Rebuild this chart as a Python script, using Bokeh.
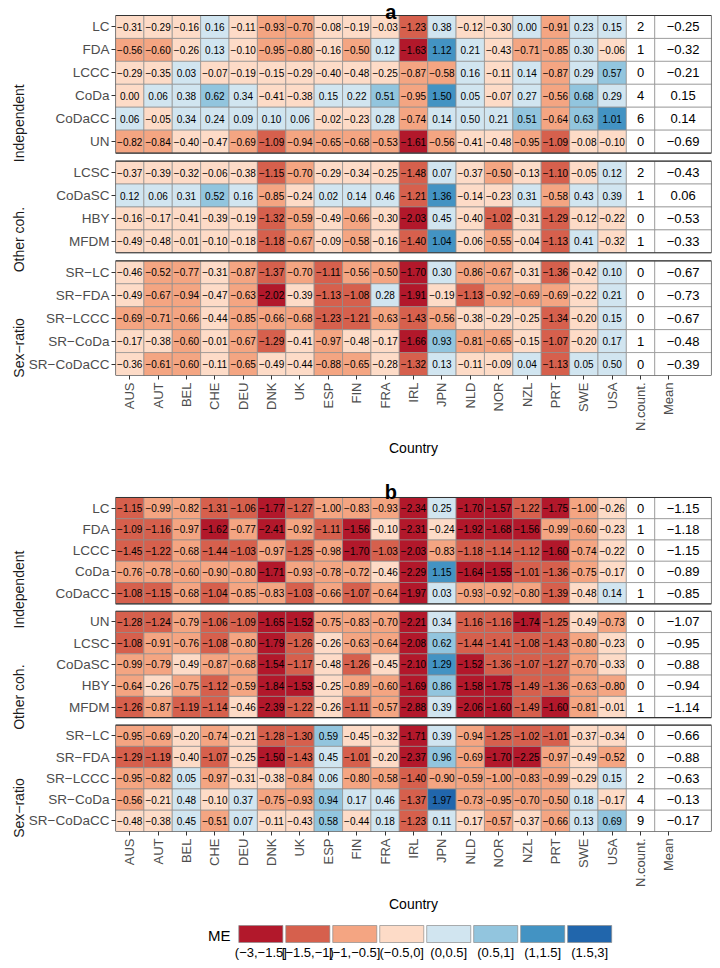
import math
from bokeh.plotting import figure
from bokeh.models import Range1d, FixedTicker, LinearAxis, ColumnDataSource
from bokeh.transform import factor_cmap
from bokeh.layouts import column
from bokeh.embed import file_html
from bokeh.resources import INLINE
from bokeh.core.properties import value

# ---------------- data ----------------
COUNTRIES = ["AUS", "AUT", "BEL", "CHE", "DEU", "DNK", "UK", "ESP", "FIN", "FRA",
             "IRL", "JPN", "NLD", "NOR", "NZL", "PRT", "SWE", "USA"]
EXTRA_COLS = ["N.count.", "Mean"]

LEGEND_LABELS = ["(−3,−1.5]", "[−1.5,−1)", "[−1,−0.5]", "(−0.5,0]",
                 "(0,0.5]", "(0.5,1]", "(1,1.5]", "(1.5,3]"]
PALETTE = ["#b2182b", "#d6604d", "#f4a582", "#fddbc7",
           "#d1e5f0", "#92c5de", "#4393c3", "#2166ac"]

GROUPS_A = ["Independent", "Other coh.", "Sex−ratio"]
GROUP_SIZES_A = [6, 4, 5]
ROWS_A = ["LC", "FDA", "LCCC", "CoDa", "CoDaCC", "UN",
          "LCSC", "CoDaSC", "HBY", "MFDM",
          "SR−LC", "SR−FDA", "SR−LCCC", "SR−CoDa", "SR−CoDaCC"]
VALUES_A = [
    [-0.31, -0.29, -0.16, 0.16, -0.11, -0.93, -0.70, -0.08, -0.19, -0.03, -1.23, 0.38, -0.12, -0.30, 0.004, -0.91, 0.23, 0.15],
    [-0.56, -0.60, -0.26, 0.13, -0.10, -0.95, -0.80, -0.16, -0.50, 0.12, -1.63, 1.12, 0.21, -0.43, -0.71, -0.85, 0.30, -0.06],
    [-0.29, -0.35, 0.03, -0.07, -0.19, -0.15, -0.29, -0.40, -0.48, -0.25, -0.87, -0.58, 0.16, -0.11, 0.14, -0.87, 0.29, 0.57],
    [-0.004, 0.06, 0.38, 0.62, 0.34, -0.41, -0.38, 0.15, 0.22, 0.51, -0.95, 1.50, 0.05, -0.07, 0.27, -0.56, 0.68, 0.29],
    [0.06, -0.05, 0.34, 0.24, 0.09, 0.10, 0.06, -0.02, -0.23, 0.28, -0.74, 0.14, 0.50, 0.21, 0.51, -0.64, 0.63, 1.01],
    [-0.82, -0.84, -0.40, -0.47, -0.69, -1.09, -0.94, -0.65, -0.68, -0.53, -1.61, -0.56, -0.41, -0.48, -0.95, -1.09, -0.08, -0.10],
    [-0.37, -0.39, -0.32, -0.06, -0.38, -1.15, -0.70, -0.29, -0.34, -0.25, -1.48, 0.07, -0.37, -0.50, -0.13, -1.10, -0.05, 0.12],
    [0.12, 0.06, 0.31, 0.52, 0.16, -0.85, -0.24, 0.02, 0.14, 0.46, -1.21, 1.36, -0.14, -0.23, 0.31, -0.58, 0.43, 0.39],
    [-0.16, -0.17, -0.41, -0.39, -0.19, -1.32, -0.59, -0.49, -0.66, -0.30, -2.03, 0.45, -0.40, -1.02, -0.31, -1.29, -0.12, -0.22],
    [-0.49, -0.48, -0.01, -0.10, -0.18, -1.18, -0.67, -0.09, -0.58, -0.16, -1.40, 1.04, -0.06, -0.55, -0.04, -1.13, 0.41, -0.32],
    [-0.46, -0.52, -0.77, -0.31, -0.87, -1.37, -0.70, -1.11, -0.56, -0.50, -1.70, 0.30, -0.86, -0.67, -0.31, -1.36, -0.42, 0.10],
    [-0.49, -0.67, -0.94, -0.47, -0.63, -2.02, -0.39, -1.13, -1.08, 0.28, -1.91, -0.19, -1.13, -0.92, -0.69, -0.69, -0.22, 0.21],
    [-0.69, -0.71, -0.66, -0.44, -0.85, -0.66, -0.68, -1.23, -1.21, -0.63, -1.43, -0.56, -0.38, -0.29, -0.25, -1.34, -0.20, 0.15],
    [-0.17, -0.38, -0.60, -0.01, -0.67, -1.29, -0.41, -0.97, -0.48, -0.17, -1.66, 0.93, -0.81, -0.65, -0.15, -1.07, -0.20, 0.17],
    [-0.36, -0.61, -0.60, -0.11, -0.65, -0.49, -0.44, -0.88, -0.65, -0.28, -1.32, 0.13, -0.11, -0.09, 0.04, -1.13, 0.05, 0.50],
]
NCOUNT_A = [2, 1, 0, 4, 6, 0, 2, 1, 0, 1, 0, 0, 0, 1, 0]
MEAN_A = [-0.25, -0.32, -0.21, 0.15, 0.14, -0.69, -0.43, 0.06, -0.53, -0.33,
          -0.67, -0.73, -0.67, -0.48, -0.39]

GROUPS_B = ["Independent", "Other coh.", "Sex−ratio"]
GROUP_SIZES_B = [5, 5, 5]
ROWS_B = ["LC", "FDA", "LCCC", "CoDa", "CoDaCC",
          "UN", "LCSC", "CoDaSC", "HBY", "MFDM",
          "SR−LC", "SR−FDA", "SR−LCCC", "SR−CoDa", "SR−CoDaCC"]
VALUES_B = [
    [-1.15, -0.99, -0.82, -1.31, -1.06, -1.77, -1.27, -1.00, -0.83, -0.93, -2.34, 0.25, -1.70, -1.57, -1.22, -1.75, -1.00, -0.26],
    [-1.09, -1.16, -0.97, -1.62, -0.77, -2.41, -0.92, -1.11, -1.56, -0.10, -2.31, -0.24, -1.92, -1.68, -1.56, -0.99, -0.60, -0.23],
    [-1.45, -1.22, -0.68, -1.44, -1.03, -0.97, -1.25, -0.98, -1.70, -1.03, -2.03, -0.83, -1.18, -1.14, -1.12, -1.60, -0.74, -0.22],
    [-0.76, -0.78, -0.60, -0.90, -0.80, -1.71, -0.93, -0.78, -0.72, -0.46, -2.29, 1.15, -1.64, -1.55, -1.01, -1.36, -0.75, -0.17],
    [-1.08, -1.15, -0.68, -1.04, -0.85, -0.83, -1.03, -0.66, -1.07, -0.64, -1.97, 0.03, -0.93, -0.92, -0.80, -1.39, -0.48, 0.14],
    [-1.28, -1.24, -0.79, -1.06, -1.09, -1.65, -1.52, -0.75, -0.83, -0.70, -2.21, 0.34, -1.16, -1.16, -1.74, -1.25, -0.49, -0.73],
    [-1.08, -0.91, -0.76, -1.08, -0.80, -1.79, -1.26, -0.26, -0.63, -0.64, -2.08, 0.62, -1.44, -1.41, -1.08, -1.43, -0.80, -0.23],
    [-0.99, -0.79, -0.49, -0.87, -0.68, -1.54, -1.17, -0.48, -1.26, -0.45, -2.10, 1.29, -1.52, -1.36, -1.07, -1.27, -0.70, -0.33],
    [-0.64, -0.26, -0.75, -1.12, -0.59, -1.84, -1.53, -0.25, -0.89, -0.60, -1.69, 0.86, -1.58, -1.75, -1.49, -1.36, -0.63, -0.80],
    [-1.26, -0.87, -1.19, -1.14, -0.46, -2.39, -1.22, -0.26, -1.11, -0.57, -2.88, 0.39, -2.06, -1.60, -1.49, -1.60, -0.81, -0.01],
    [-0.95, -0.69, -0.20, -0.74, -0.21, -1.28, -1.30, 0.59, -0.45, -0.32, -1.71, 0.39, -0.94, -1.25, -1.02, -1.01, -0.37, -0.34],
    [-1.29, -1.19, -0.40, -1.07, -0.25, -1.50, -1.43, 0.45, -1.01, -0.20, -2.37, 0.96, -0.69, -1.70, -2.25, -0.97, -0.49, -0.52],
    [-0.95, -0.82, 0.05, -0.97, -0.31, -0.38, -0.84, 0.06, -0.80, -0.58, -1.40, -0.90, -0.59, -1.00, -0.83, -0.99, -0.29, 0.15],
    [-0.56, -0.21, 0.48, -0.10, 0.37, -0.75, -0.93, 0.94, 0.17, 0.46, -1.37, 1.97, -0.73, -0.95, -0.70, -0.50, 0.18, -0.17],
    [-0.48, -0.38, 0.45, -0.51, 0.07, -0.11, -0.43, 0.58, -0.44, 0.18, -1.23, 0.11, -0.17, -0.57, -0.37, -0.66, 0.13, 0.69],
]
NCOUNT_B = [0, 1, 0, 0, 1, 0, 0, 0, 0, 1, 0, 0, 2, 4, 9]
MEAN_B = [-1.15, -1.18, -1.15, -0.89, -0.85, -1.07, -0.95, -0.88, -0.94, -1.14,
          -0.66, -0.88, -0.63, -0.13, -0.17]

# ---------------- helpers ----------------
FONT = "Liberation Sans"
CELL_LINE = "#8c8c8c"


def fmt(v):
    r = round(v, 2)
    s = f"{abs(r):.2f}"
    return ("−" + s) if r < 0 else s


def bin_label(v):
    if v <= -1.5:
        i = 0
    elif v < -1:
        i = 1
    elif v <= -0.5:
        i = 2
    elif v <= 0:
        i = 3
    elif v <= 0.5:
        i = 4
    elif v <= 1:
        i = 5
    elif v <= 1.5:
        i = 6
    else:
        i = 7
    return LEGEND_LABELS[i]


ROW_U, GAP_U = 20, 7


def make_panel(letter, groups, group_sizes, rows, values, ncount, mean,
               fig_h, table_top_px, border_bottom, title_gap_px):
    centers, spans = [], []
    y = 0
    for n in group_sizes:
        top = y
        for _ in range(n):
            centers.append(y + ROW_U // 2)
            y += ROW_U
        spans.append((top, y))
        y += GAP_U
    total = y - GAP_U
    table_h = fig_h - border_bottom - table_top_px
    upx = total / table_h                 # data units per pixel
    y_top = -table_top_px * upx           # frame starts at the canvas top

    p = figure(width=712, height=fig_h, x_range=Range1d(0.5, 21.5),
               y_range=Range1d(total, y_top), output_backend="svg",
               toolbar_location=None, min_border_left=102, min_border_right=1,
               min_border_top=0, min_border_bottom=border_bottom)
    p.grid.visible = False
    p.outline_line_color = None

    xs, ys, txt, bins = [], [], [], []
    for ri, row in enumerate(values):
        for ci, v in enumerate(row):
            xs.append(ci + 1)
            ys.append(centers[ri])
            txt.append(fmt(v))
            bins.append(bin_label(v))
    src = ColumnDataSource(dict(x=xs, y=ys, t=txt, b=bins))
    p.rect(x="x", y="y", width=1, height=ROW_U, source=src,
           fill_color=factor_cmap("b", palette=PALETTE, factors=LEGEND_LABELS),
           line_color=CELL_LINE, line_width=0.7)
    p.text(x="x", y="y", text="t", source=src, text_align="center",
           text_baseline="middle", text_font_size="10px",
           text_font=value(FONT), text_color="black")

    # N.count. and Mean columns
    n_rows = len(rows)
    ex_x = [len(COUNTRIES) + 1] * n_rows + [len(COUNTRIES) + 2.5] * n_rows
    ex_w = [1] * n_rows + [2] * n_rows
    ex_y = centers + centers
    ex_t = [str(c) for c in ncount] + [fmt(m) for m in mean]
    esrc = ColumnDataSource(dict(x=ex_x, y=ex_y, w=ex_w, t=ex_t))
    p.rect(x="x", y="y", width="w", height=ROW_U, source=esrc,
           fill_color="white", line_color=CELL_LINE, line_width=0.7)
    p.text(x="x", y="y", text="t", source=esrc, text_align="center",
           text_baseline="middle", text_font_size="13px",
           text_font=value(FONT), text_color="black")

    # group panel borders
    p.quad(left=[0.5] * len(spans), right=[21.5] * len(spans),
           top=[s[0] for s in spans], bottom=[s[1] for s in spans],
           fill_color=None, line_color="#333333", line_width=1.1)

    # panel title (inside the frame, above the table)
    p.text(x=[10.2], y=[-title_gap_px * upx], text=[letter], text_align="center",
           text_baseline="alphabetic", text_font_size="20px",
           text_font=value(FONT), text_font_style="bold", text_color="black")

    # x axis
    labels_x = COUNTRIES + EXTRA_COLS
    p.xaxis.ticker = FixedTicker(ticks=list(range(1, len(labels_x) + 1)))
    p.xaxis.major_label_overrides = {i + 1: lab for i, lab in enumerate(labels_x)}
    p.xaxis.major_label_orientation = math.pi / 2
    p.xaxis.major_label_text_font = FONT
    p.xaxis.major_label_text_font_size = "13px"
    p.xaxis.major_label_text_color = "#4d4d4d"
    p.xaxis.major_label_standoff = 3
    p.xaxis.axis_line_color = None
    p.xaxis.major_tick_in = 0
    p.xaxis.major_tick_out = 4
    p.xaxis.major_tick_line_color = "#333333"
    p.xaxis.minor_tick_line_color = None
    p.xaxis.axis_label = "Country"
    p.xaxis.axis_label_text_font = FONT
    p.xaxis.axis_label_text_font_size = "14px"
    p.xaxis.axis_label_text_font_style = "normal"
    p.xaxis.axis_label_text_color = "black"
    p.xaxis.axis_label_standoff = 6

    # y axis (rows)
    p.yaxis.ticker = FixedTicker(ticks=centers)
    p.yaxis.major_label_overrides = {c: r for c, r in zip(centers, rows)}
    p.yaxis.major_label_text_font = FONT
    p.yaxis.major_label_text_font_size = "13.5px"
    p.yaxis.major_label_text_color = "#4d4d4d"
    p.yaxis.major_label_standoff = 2
    p.yaxis.axis_line_color = None
    p.yaxis.major_tick_in = 0
    p.yaxis.major_tick_out = 4
    p.yaxis.major_tick_line_color = "#333333"
    p.yaxis.minor_tick_line_color = None

    # group label axis
    gcent = [(s[0] + s[1]) // 2 for s in spans]
    gax = LinearAxis(ticker=FixedTicker(ticks=gcent),
                     major_label_overrides={c: g for c, g in zip(gcent, groups)})
    gax.major_label_orientation = math.pi / 2
    gax.major_label_text_font = FONT
    gax.major_label_text_font_size = "14px"
    gax.major_label_text_color = "#1a1a1a"
    gax.major_label_standoff = 0
    gax.axis_line_color = None
    gax.major_tick_line_color = None
    gax.minor_tick_line_color = None
    p.add_layout(gax, "left")
    return p


pa = make_panel("a", GROUPS_A, GROUP_SIZES_A, ROWS_A, VALUES_A, NCOUNT_A, MEAN_A,
                fig_h=476, table_top_px=15, border_bottom=101, title_gap_px=4)
pb = make_panel("b", GROUPS_B, GROUP_SIZES_B, ROWS_B, VALUES_B, NCOUNT_B, MEAN_B,
                fig_h=438, table_top_px=21, border_bottom=82, title_gap_px=5)

# ---------------- legend ----------------
LEG_PX = 48.0                         # pixels per legend key
LEG_START = -(258.5 - 110) / LEG_PX   # key 0 centred at page x 258.5
pl = figure(width=712, height=46,
            x_range=Range1d(LEG_START, LEG_START + 609 / LEG_PX),
            y_range=Range1d(46, 0), output_backend="svg", toolbar_location=None,
            min_border_left=102, min_border_right=1, min_border_top=0,
            min_border_bottom=0, x_axis_location=None, y_axis_location=None)
pl.grid.visible = False
pl.outline_line_color = None
lsrc = ColumnDataSource(dict(x=list(range(len(LEGEND_LABELS))), b=LEGEND_LABELS))
pl.rect(x="x", y=19.5, width=45 / LEG_PX, height=17, source=lsrc,
        fill_color=factor_cmap("b", palette=PALETTE, factors=LEGEND_LABELS),
        line_color=CELL_LINE, line_width=0.7)
pl.text(x="x", y=38, text="b", source=lsrc, text_align="center",
        text_baseline="middle", text_font_size="13px", text_font=value(FONT),
        text_color="black")
pl.text(x=[LEG_START + (216 - 110) / LEG_PX], y=[21], text=["ME"],
        text_align="center", text_baseline="middle", text_font_size="15px",
        text_font=value(FONT), text_color="black")

layout = column(pa, pb, pl)
open("out.html", "w").write(file_html(layout, INLINE))
